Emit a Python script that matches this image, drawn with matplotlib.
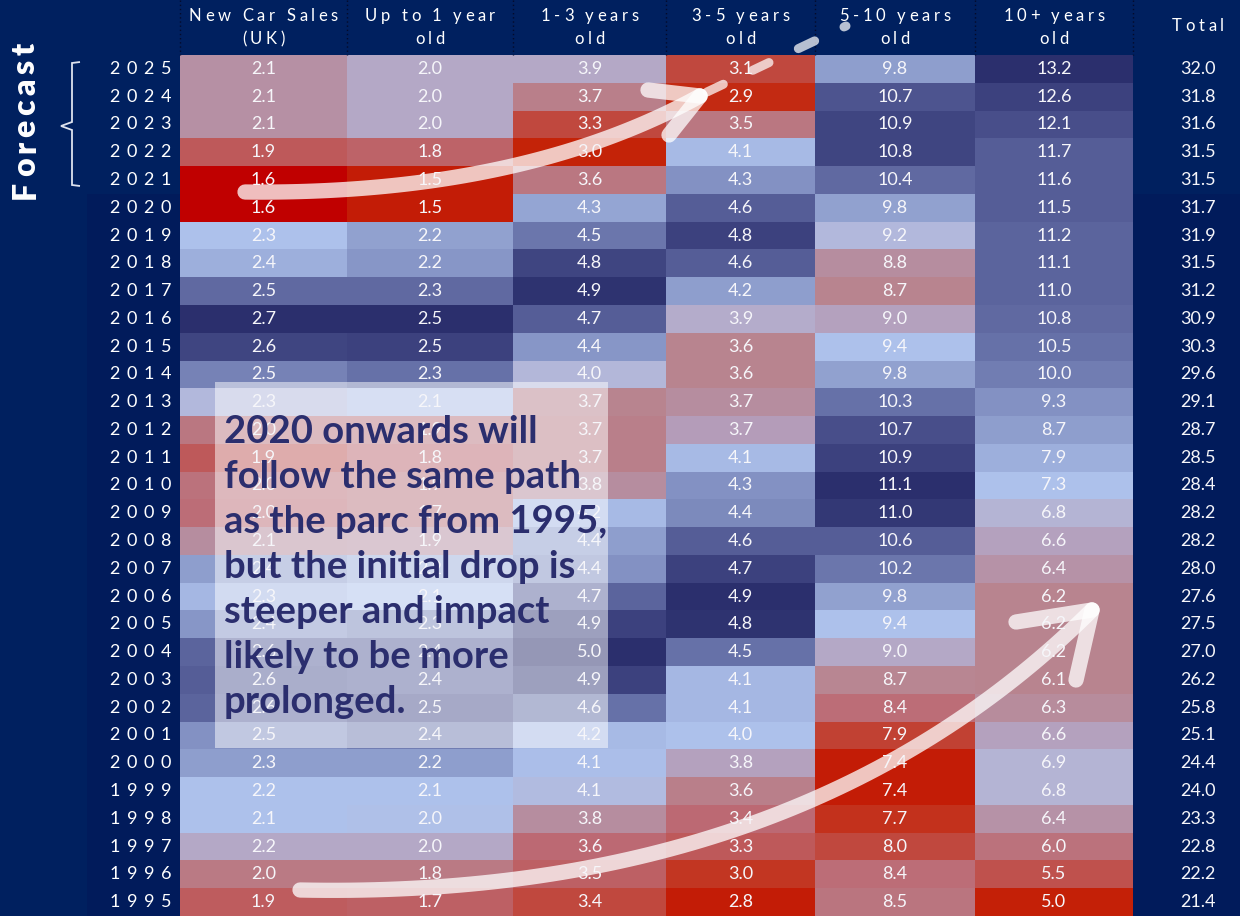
import numpy as np
import matplotlib.pyplot as plt
from matplotlib.colors import LinearSegmentedColormap, Normalize
from matplotlib.font_manager import FontProperties
from matplotlib.textpath import TextToPath
from matplotlib.path import Path
from matplotlib.patches import PathPatch, Rectangle

# UK car parc by age band (millions), newest year first
years = list(range(2025, 1994, -1))
columns = [("New Car Sales", "(UK)"), ("Up to 1 year", "old"), ("1-3 years", "old"),
           ("3-5 years", "old"), ("5-10 years", "old"), ("10+ years", "old")]

new_car = [2.1, 2.1, 2.1, 1.9, 1.6, 1.6, 2.3, 2.4, 2.5, 2.7, 2.6, 2.5, 2.3, 2.0, 1.9, 2.0,
           2.0, 2.1, 2.4, 2.3, 2.4, 2.6, 2.6, 2.6, 2.5, 2.3, 2.2, 2.1, 2.2, 2.0, 1.9]
up_to_1 = [2.0, 2.0, 2.0, 1.8, 1.5, 1.5, 2.2, 2.2, 2.3, 2.5, 2.5, 2.3, 2.1, 1.9, 1.8, 1.9,
           1.7, 1.9, 2.2, 2.1, 2.3, 2.4, 2.4, 2.5, 2.4, 2.2, 2.1, 2.0, 2.0, 1.8, 1.7]
yrs_1_3 = [3.9, 3.7, 3.3, 3.0, 3.6, 4.3, 4.5, 4.8, 4.9, 4.7, 4.4, 4.0, 3.7, 3.7, 3.7, 3.8,
           4.2, 4.4, 4.4, 4.7, 4.9, 5.0, 4.9, 4.6, 4.2, 4.1, 4.1, 3.8, 3.6, 3.5, 3.4]
yrs_3_5 = [3.1, 2.9, 3.5, 4.1, 4.3, 4.6, 4.8, 4.6, 4.2, 3.9, 3.6, 3.6, 3.7, 3.7, 4.1, 4.3,
           4.4, 4.6, 4.7, 4.9, 4.8, 4.5, 4.1, 4.1, 4.0, 3.8, 3.6, 3.4, 3.3, 3.0, 2.8]
yrs_5_10 = [9.8, 10.7, 10.9, 10.8, 10.4, 9.8, 9.2, 8.8, 8.7, 9.0, 9.4, 9.8, 10.3, 10.7, 10.9, 11.1,
            11.0, 10.6, 10.2, 9.8, 9.4, 9.0, 8.7, 8.4, 7.9, 7.4, 7.4, 7.7, 8.0, 8.4, 8.5]
yrs_10_plus = [13.2, 12.6, 12.1, 11.7, 11.6, 11.5, 11.2, 11.1, 11.0, 10.8, 10.5, 10.0, 9.3, 8.7, 7.9, 7.3,
               6.8, 6.6, 6.4, 6.2, 6.2, 6.2, 6.1, 6.3, 6.6, 6.9, 6.8, 6.4, 6.0, 5.5, 5.0]
total = [32.0, 31.8, 31.6, 31.5, 31.5, 31.7, 31.9, 31.5, 31.2, 30.9, 30.3, 29.6, 29.1, 28.7, 28.5, 28.4,
         28.2, 28.2, 28.0, 27.6, 27.5, 27.0, 26.2, 25.8, 25.1, 24.4, 24.0, 23.3, 22.8, 22.2, 21.4]

# heat score for each cell, 0 = red (weak) .. 10 = navy (strong)
shade_new = [4.5, 4.5, 4.5, 2.5, 0, 0, 7, 7.5, 8.8, 10, 9.5, 8.4, 6.3, 3.5, 2.5, 3.3,
             3.1, 4.4, 8, 7.3, 8.1, 8.9, 9.0, 8.9, 8.2, 8, 7, 7, 5.5, 3.6, 2.6]
shade_up1 = [5.5, 5.5, 5.5, 2.8, 0.8, 0.8, 7.9, 8.1, 8.8, 10, 9.6, 8.7, 6.8, 3.5, 3, 3.5,
             3.5, 4.5, 7.5, 7, 8.3, 8.9, 8.9, 9.2, 8.5, 8, 7, 6.8, 5.5, 3.6, 2.7]
shade_13 = [5.5, 3.8, 2, 1, 3.5, 7.8, 8.6, 9.5, 9.9, 9.0, 8.1, 6.2, 4, 3.8, 3.8, 4.4,
            7.2, 8.0, 8.2, 8.9, 9.6, 10, 9.6, 8.7, 7.2, 7.1, 6.5, 4.4, 3, 2.7, 2]
shade_35 = [2, 1.2, 3.5, 7.2, 8.2, 9.0, 9.6, 9.0, 8.0, 5.7, 4, 4, 4.4, 5, 7.2, 8.2,
            8.3, 9.0, 9.6, 10, 9.9, 8.7, 7.3, 7.3, 7, 5.2, 3.8, 3, 2.5, 1.5, 0.8]
shade_510 = [8, 9.2, 9.5, 9.5, 8.8, 7.9, 6.3, 4.4, 4, 5.2, 7, 7.9, 8.7, 9.3, 9.6, 10,
             9.8, 9.0, 8.6, 7.9, 7, 5.5, 4.1, 3.1, 1.8, 0.8, 0.8, 1.4, 2, 3.1, 3.4]
shade_10p = [10, 9.6, 9.3, 9.0, 9.0, 9.0, 8.9, 8.9, 8.9, 8.8, 8.7, 8.5, 8.2, 8, 7.5, 7,
             6, 5.2, 4.6, 4, 4, 4, 4, 4.3, 5.2, 6, 6, 4.6, 3.3, 2.3, 0.9]

callout = ["2020 onwards will", "follow the same path", "as the parc from 1995,",
           "but the initial drop is", "steeper and impact", "likely to be more", "prolonged."]

values = np.array([new_car, up_to_1, yrs_1_3, yrs_3_5, yrs_5_10, yrs_10_plus]).T
shades = np.array([shade_new, shade_up1, shade_13, shade_35, shade_510, shade_10p]).T

BG = "#00205f"
BG_DARK = "#011b5b"
INK = "#2b2e6e"
cmap = LinearSegmentedColormap.from_list("parc", [
    "#c00000", "#c42408", "#c0483e", "#bc6a74", "#b8848f", "#b49cb8",
    "#b4b4d4", "#aec2ec", "#8e9ecd", "#565e98", "#2b2f6d"])

# layout in pixel units
x_edges = np.array([180, 347, 513, 666, 815, 975, 1133])
top, row_h = 55, (916 - 55) / len(years)
y_edges = top + np.arange(len(years) + 1) * row_h
x_mid = (x_edges[:-1] + x_edges[1:]) / 2
y_mid = (y_edges[:-1] + y_edges[1:]) / 2
total_x = 1198

fig = plt.figure(figsize=(12.4, 9.16), dpi=100)
fig.patch.set_facecolor(BG)
ax = fig.add_axes([0, 0, 1, 1])
ax.set_xlim(0, 1240)
ax.set_ylim(916, 0)
ax.axis("off")

t2p = TextToPath()


def char_px(ch, fp):
    w, _, _ = t2p.get_text_width_height_descent(ch, fp, ismath=False)
    return w * 100 / 72


def tracked(x, y, s, fp, track, ha="center", color="white", **kw):
    widths = [char_px(c, fp) for c in s]
    span = sum(widths) + track * (len(s) - 1)
    x0 = {"center": x - span / 2, "right": x - span, "left": x}[ha]
    for c, w in zip(s, widths):
        ax.text(x0, y, c, fontproperties=fp, ha="left", va="center", color=color, **kw)
        x0 += w + track


# darker bands behind the historical years and totals
n_fc = 5
ax.add_patch(Rectangle((87, y_edges[n_fc]), 180 - 87, 916 - y_edges[n_fc], color=BG_DARK, lw=0))
ax.add_patch(Rectangle((1133, y_edges[n_fc]), 1240 - 1133, 916 - y_edges[n_fc], color=BG_DARK, lw=0))

ax.pcolormesh(x_edges, y_edges, shades, cmap=cmap, norm=Normalize(0, 10), shading="flat")

num_fp = FontProperties(family=["Lato", "DejaVu Sans"], weight="normal", size=13)
for i in range(len(years)):
    for j in range(values.shape[1]):
        ax.text(x_mid[j], y_mid[i], f"{values[i, j]:.1f}", fontproperties=num_fp,
                ha="center", va="center", color="#f6f6fa")
    ax.text(total_x, y_mid[i], f"{total[i]:.1f}", fontproperties=num_fp,
            ha="center", va="center", color="#f6f6fa")
    tracked(171, y_mid[i], str(years[i]), num_fp, 6.5, ha="right")

# column headers
head_fp = FontProperties(family=["Lato", "DejaVu Sans"], weight="normal", size=12)
for j, (l1, l2) in enumerate(columns):
    tracked(x_mid[j], 16, l1, head_fp, 3.6)
    tracked(x_mid[j], 39, l2, head_fp, 3.6)
tracked(total_x, 26, "Total", head_fp, 3.6)
for xe in x_edges:
    ax.plot([xe, xe], [0, top], color="#050a2a", lw=1, ls=(0, (1, 2)))

# forecast label and brace
fc_fp = FontProperties(family=["Lato", "DejaVu Sans"], weight="heavy", size=23)
yy = 199
for c in "Forecast":
    ax.text(35, yy, c, fontproperties=fc_fp, color="white", rotation=90,
            rotation_mode="anchor", ha="left", va="baseline")
    yy -= char_px(c, fc_fp) + 4.5
brace = Path([(80, 62), (72, 63), (72, 122), (61, 126), (72, 130), (72, 185), (80, 186)])
ax.add_patch(PathPatch(brace, fill=False, ec="#dde2ee", lw=1.3))

# callout box
ax.add_patch(Rectangle((215, 382), 608 - 215, 748 - 382, color="white", alpha=0.5, lw=0))
call_fp = FontProperties(family=["Lato", "DejaVu Sans"], weight="bold", size=27.5)
for k, line in enumerate(callout):
    ax.text(224, 443 + k * 45, line, fontproperties=call_fp, color=INK,
            ha="left", va="baseline")


# curved arrows
def bezier(p0, p1, p2, n=80):
    t = np.linspace(0, 1, n)[:, None]
    return (1 - t) ** 2 * np.array(p0) + 2 * (1 - t) * t * np.array(p1) + t ** 2 * np.array(p2)


def arrow(p0, p1, tip, arm_a, arm_b, lw=11):
    pts = bezier(p0, p1, tip)
    kw = dict(color="white", alpha=0.75, lw=lw, solid_capstyle="round")
    ax.plot(pts[:, 0], pts[:, 1], **kw)
    ax.plot([arm_a[0], tip[0]], [arm_a[1], tip[1]], **kw)
    ax.plot([arm_b[0], tip[0]], [arm_b[1], tip[1]], **kw)


arrow((245, 192), (520, 195), (700, 96), (648, 90), (669, 135))
ax.plot([707, 846], [92, 26], color="white", alpha=0.72, lw=6.5,
        dash_capstyle="round", ls=(0, (2.0, 3.6)))
arrow((300, 890), (800, 900), (1092, 610), (1016, 622), (1076, 680))

fig.savefig("out.png", dpi=100, facecolor=BG)
